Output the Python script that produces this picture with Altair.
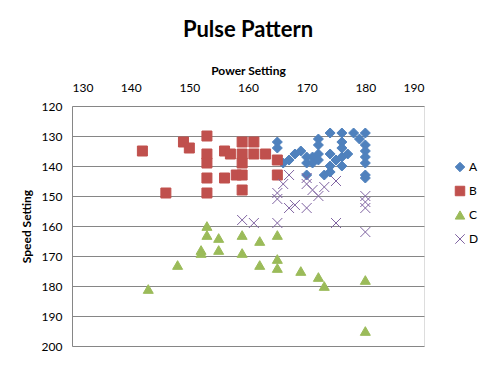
import altair as alt
import pandas as pd

# Series A (blue diamonds)
a_x = [165, 165, 166, 167, 168, 169, 170, 170, 171, 171, 172, 172, 172, 172, 170, 173, 174, 174,
       174, 174, 175, 176, 176, 176, 176, 176, 177, 178, 179, 180, 180, 180, 180, 180, 180, 180]
a_y = [132, 134, 139, 138, 136, 135, 137, 139, 137, 139, 131, 133, 136, 138, 143, 143, 142, 140,
       136, 129, 138, 129, 132, 134, 137, 140, 136, 129, 131, 129, 133, 135, 137, 139, 143, 144]
# Series B (red squares)
b_x = [142, 146, 149, 150, 153, 153, 153, 153, 153, 156, 157, 156, 158, 159, 159, 159, 159, 159,
       161, 161, 163, 165, 165]
b_y = [135, 149, 132, 134, 130, 136, 139, 144, 149, 135, 136, 144, 143, 143, 132, 136, 139, 148,
       132, 136, 136, 138, 143]
# Series C (green triangles)
c_x = [143, 148, 152, 152, 153, 153, 155, 155, 159, 159, 162, 162, 165, 165, 165, 169, 172, 173, 180, 180]
c_y = [181, 173, 168, 169, 160, 163, 164, 168, 163, 169, 165, 173, 163, 171, 174, 175, 177, 180, 178, 195]
# Series D (purple crosses)
d_x = [159, 161, 165, 175, 180, 165, 165, 166, 167, 167, 168, 170, 170, 170, 171, 172, 173, 175, 180, 180, 180]
d_y = [158, 159, 159, 159, 162, 149, 151, 146, 143, 154, 153, 154, 144, 146, 148, 150, 147, 145, 150, 152, 154]

series = ["A", "B", "C", "D"]
colors = ["#4F81BD", "#C0504D", "#9BBB59", "#8064A2"]
fills = ["#4F81BD", "#C0504D", "#9BBB59", "transparent"]
shapes = ["diamond", "square", "triangle-up", "M-1,-1L1,1M-1,1L1,-1"]

rows = []
for name, xs, ys in zip(series, [a_x, b_x, c_x, d_x], [a_y, b_y, c_y, d_y]):
    for x, y in zip(xs, ys):
        rows.append({"power": x, "speed": y, "series": name})
df = pd.DataFrame(rows)

FONT = "Lato"
legend = alt.Legend(title=None, orient="none", legendX=382, legendY=55,
                    labelFontSize=12, labelFont=FONT, labelColor="#000000",
                    symbolSize=90, rowPadding=10, symbolStrokeWidth=1, labelOffset=3)

chart = alt.Chart(df).mark_point(size=100, opacity=1, strokeWidth=1).encode(
    x=alt.X("power:Q", scale=alt.Scale(domain=[130, 190], nice=False, zero=False),
            axis=alt.Axis(orient="top", title="Power Setting", values=list(range(130, 191, 10)),
                          grid=False, ticks=False, domain=False, labelPadding=12,
                          labelFontSize=12, labelFont=FONT, labelColor="#000000",
                          titleFontSize=12, titleFont=FONT, titleFontWeight="bold",
                          titleColor="#000000", titlePadding=4)),
    y=alt.Y("speed:Q", scale=alt.Scale(domain=[120, 200], reverse=True, nice=False, zero=False),
            axis=alt.Axis(title="Speed Setting", values=list(range(120, 201, 10)),
                          grid=True, gridColor="#868686", gridWidth=1, ticks=False,
                          domain=True, domainColor="#868686", labelPadding=10,
                          labelFontSize=12, labelFont=FONT, labelColor="#000000",
                          titleFontSize=12, titleFont=FONT, titleFontWeight="bold",
                          titleColor="#000000", titlePadding=8)),
    shape=alt.Shape("series:N", scale=alt.Scale(domain=series, range=shapes), legend=legend),
    fill=alt.Fill("series:N", scale=alt.Scale(domain=series, range=fills), legend=legend),
    stroke=alt.Stroke("series:N", scale=alt.Scale(domain=series, range=colors), legend=legend),
).properties(
    width=352, height=240,
    title=alt.TitleParams("Pulse Pattern", font=FONT, fontSize=22, fontWeight="bold",
                          color="#000000", anchor="middle", offset=22),
    autosize=alt.AutoSizeParams(type="none"),
    padding={"left": 64, "top": 98, "right": 61, "bottom": 10},
).configure_view(stroke=None).configure(background="#ffffff")

chart.save("out.html", embed_options={"renderer": "svg", "actions": False})
